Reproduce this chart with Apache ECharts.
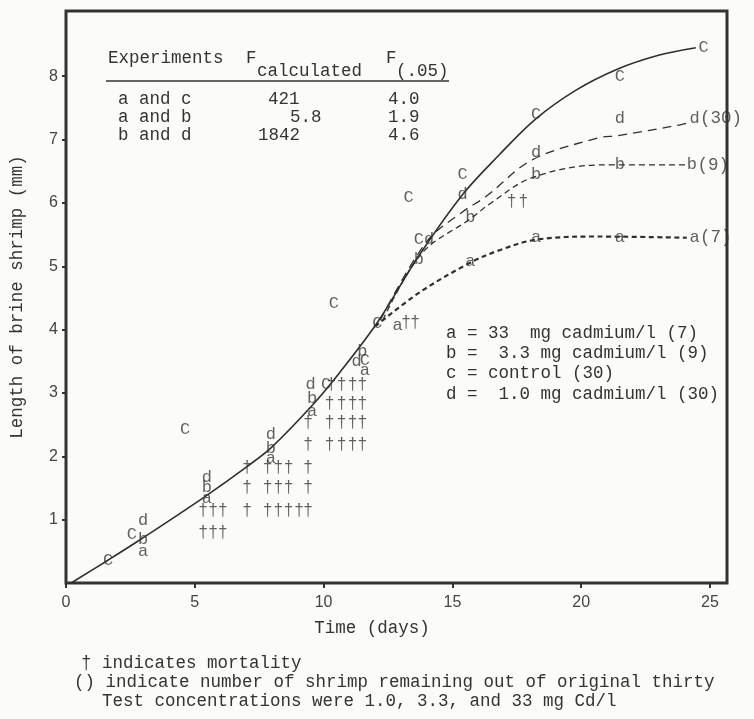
<!DOCTYPE html>
<html><head><meta charset="utf-8">
<script src="https://cdn.jsdelivr.net/npm/echarts@6/dist/echarts.min.js"></script>
<style>html,body{margin:0;padding:0;background:#fbfbf9;} #c{width:754px;height:719px;}</style>
</head><body><div id="c"></div>
<script>
// ---- axis ticks ----
const xTicks = [0, 5, 10, 15, 20, 25];
const yTicks = [1, 2, 3, 4, 5, 6, 7, 8];

// ---- fitted growth curves (days, length mm) ----
const curveCDays = [0.2, 1.63, 2.98, 5.31, 7.0, 8.0, 9.57, 10.62, 12.1, 13.64, 15.39, 16.82, 18.25, 19.8, 21.4, 23.0, 24.45];
const curveCLen  = [0.0, 0.36, 0.71, 1.34, 1.83, 2.15, 2.81, 3.32, 4.12, 5.13, 6.13, 6.76, 7.33, 7.78, 8.11, 8.33, 8.45];
const curveDDays = [12.2, 14.0, 15.4, 16.3, 18.1, 20.7, 21.4, 23.8, 24.3];
const curveDLen  = [4.15, 5.39, 5.86, 6.1, 6.68, 7.03, 7.06, 7.23, 7.28];
const curveBDays = [12.3, 13.8, 15.7, 16.5, 18.1, 20.8, 24.2];
const curveBLen  = [4.15, 5.2, 5.75, 6.0, 6.4, 6.6, 6.6];
const curveADays = [12.0, 13.7, 15.66, 16.8, 18.25, 20.6, 24.1];
const curveALen  = [4.05, 4.58, 5.05, 5.25, 5.42, 5.47, 5.45];

// ---- observed points per treatment ----
const aDays = [2.99, 5.47, 7.95, 9.55, 11.6, 12.87, 15.7, 18.25, 21.5, 24.4];
const aLen  = [0.49, 1.34, 1.97, 2.70, 3.36, 4.07, 5.07, 5.45, 5.45, 5.45];
const bDays = [2.99, 5.47, 7.95, 9.55, 11.5, 13.7, 15.7, 18.25, 21.5, 24.3];
const bLen  = [0.69, 1.50, 2.13, 2.92, 3.65, 5.10, 5.77, 6.45, 6.60, 6.60];
const cDays = [1.63, 2.56, 4.62, 10.1, 10.4, 11.6, 12.09, 13.3, 13.7, 15.4, 18.25, 21.5, 24.75];
const cLen  = [0.36, 0.76, 2.42, 3.13, 4.42, 3.52, 4.10, 6.08, 5.42, 6.45, 7.39, 8.00, 8.45];
const dDays = [2.99, 5.47, 7.95, 9.5, 11.28, 14.1, 15.4, 18.25, 21.5, 24.4];
const dLen  = [0.99, 1.67, 2.35, 3.13, 3.49, 5.42, 6.13, 6.79, 7.34, 7.34];

// ---- mortality marks (†) ----
const mortDays = [5.32, 5.71, 6.09,
  5.32, 5.71, 6.09, 7.03, 7.83, 8.24, 8.64, 9.05, 9.4,
  7.03, 7.83, 8.24, 8.64, 9.4,
  7.03, 7.83, 8.24, 8.64, 9.4,
  9.4, 10.23, 10.7, 11.13, 11.5,
  9.4, 10.23, 10.7, 11.13, 11.5,
  10.23, 10.7, 11.13, 11.5,
  10.3, 10.7, 11.13, 11.5,
  13.2, 13.55,
  17.3, 17.75];
const mortLen = [0.80, 0.80, 0.80,
  1.15, 1.15, 1.15, 1.15, 1.15, 1.15, 1.15, 1.15, 1.15,
  1.50, 1.50, 1.50, 1.50, 1.50,
  1.83, 1.83, 1.83, 1.83, 1.83,
  2.18, 2.18, 2.18, 2.18, 2.18,
  2.53, 2.53, 2.53, 2.53, 2.53,
  2.84, 2.84, 2.84, 2.84,
  3.14, 3.14, 3.14, 3.14,
  4.12, 4.12,
  6.02, 6.02];

// ---- survivors at end ----
const endLetters = ['d', 'b', 'a'];
const endCounts = ['(30)', '(9)', '(7)'];

// ---- text content ----
const xTitle = 'Time (days)';
const yTitle = 'Length of brine shrimp (mm)';
const tableHead = ['Experiments', 'F', 'calculated', 'F', '(.05)'];
const tableExperiments = ['a and c', 'a and b', 'b and d'];
const tableFcalc = ['421', '5.8', '1842'];
const tableF05 = ['4.0', '1.9', '4.6'];
const legendLines = ['a = 33  mg cadmium/l (7)', 'b =  3.3 mg cadmium/l (9)', 'c = control (30)', 'd =  1.0 mg cadmium/l (30)'];
const footnotes = ['† indicates mortality', '() indicate number of shrimp remaining out of original thirty', 'Test concentrations were 1.0, 3.3, and 33 mg Cd/l'];

const MONO = '"Liberation Mono", "DejaVu Sans Mono", monospace';
const FS = 17.5;
const INK = '#333';
const zip = (xs, ys) => xs.map((x, i) => [x, ys[i]]);

function letterSeries(name, xs, ys, letter) {
  return {
    name, type: 'scatter', data: zip(xs, ys), symbol: 'circle', symbolSize: 1,
    itemStyle: {color: 'rgba(0,0,0,0)'}, z: 5, silent: true,
    label: {show: true, position: 'inside', formatter: letter, color: '#3a3a3a',
      fontFamily: MONO, fontSize: 17}
  };
}
function curveSeries(name, xs, ys, width, type) {
  return {
    name, type: 'line', data: zip(xs, ys), smooth: 0.35, showSymbol: false, z: 3, silent: true,
    lineStyle: {color: '#2f2f2f', width, type}
  };
}

const endData = endLetters.map(l => {
  const xs = {a: aDays, b: bDays, d: dDays}[l], ys = {a: aLen, b: bLen, d: dLen}[l];
  return [xs[xs.length - 1], ys[ys.length - 1]];
});

const graphics = [];
function txt(text, x, y, opt) {
  graphics.push({type: 'text', x, y, silent: true,
    style: Object.assign({text, font: FS + 'px ' + MONO, fill: INK, verticalAlign: 'middle', align: 'left'}, opt || {})});
}
txt(tableHead[0], 108, 58);
txt(tableHead[1], 246, 58);
txt(tableHead[2], 257, 71);
txt(tableHead[3], 386, 58);
txt(tableHead[4], 396, 71);
graphics.push({type: 'line', silent: true, shape: {x1: 106, y1: 81, x2: 449, y2: 81}, style: {stroke: '#333', lineWidth: 1.5}});
const tableFcalcX = [268, 290, 258];
tableExperiments.forEach((t, i) => {
  const y = 99 + i * 18;
  txt(t, 118, y);
  txt(tableFcalc[i], tableFcalcX[i], y);
  txt(tableF05[i], 388, y);
});
legendLines.forEach((t, i) => txt(t, 446, 333 + i * 20.3));
txt(xTitle, 372, 628, {align: 'center'});
txt(footnotes[0], 81, 663);
txt(footnotes[1], 74, 682);
txt(footnotes[2], 102, 701);

const chart = echarts.init(document.getElementById('c'), null, {renderer: 'canvas'});
chart.setOption({
  backgroundColor: '#fbfbf9',
  animation: false,
  grid: {left: 66, top: 11, width: 661, height: 572, show: true, borderColor: '#333', borderWidth: 3,
    backgroundColor: 'transparent', containLabel: false, outerBoundsMode: 'none'},
  xAxis: {
    type: 'value', min: 0, max: 25.66, interval: 5,
    axisLine: {show: false},
    axisTick: {show: true, length: 5, customValues: xTicks, lineStyle: {color: '#333', width: 2}},
    axisLabel: {customValues: xTicks, margin: 12, fontFamily: '"Liberation Sans Narrow", "Liberation Sans", sans-serif', fontSize: 16, color: '#444'},
    splitLine: {show: false}
  },
  yAxis: {
    type: 'value', min: 0, max: 9.03, interval: 1,
    name: yTitle, nameLocation: 'middle', nameGap: 40, nameRotate: 90,
    nameTextStyle: {fontFamily: MONO, fontSize: FS, color: INK},
    axisLine: {show: false},
    axisTick: {show: true, length: 4, customValues: yTicks, lineStyle: {color: '#333', width: 2}},
    axisLabel: {customValues: yTicks, margin: 8, fontFamily: '"Liberation Sans Narrow", "Liberation Sans", sans-serif', fontSize: 16, color: '#444'},
    splitLine: {show: false}
  },
  graphic: graphics,
  series: [
    curveSeries('c curve', curveCDays, curveCLen, 1.6, 'solid'),
    curveSeries('d curve', curveDDays, curveDLen, 1.3, [9, 6]),
    curveSeries('b curve', curveBDays, curveBLen, 1.3, [6, 4]),
    curveSeries('a curve', curveADays, curveALen, 2.2, [5, 3.5]),
    letterSeries('a', aDays, aLen, 'a'),
    letterSeries('b', bDays, bLen, 'b'),
    letterSeries('c', cDays, cLen, 'C'),
    letterSeries('d', dDays, dLen, 'd'),
    {
      name: 'mortality', type: 'scatter', data: zip(mortDays, mortLen), symbol: 'circle', symbolSize: 1,
      itemStyle: {color: 'rgba(0,0,0,0)'}, z: 5, silent: true,
      label: {show: true, position: 'inside', formatter: '†', color: '#3a3a3a', fontFamily: MONO, fontSize: 17}
    },
    {
      name: 'survivors', type: 'scatter', data: endData, symbol: 'circle', symbolSize: 1,
      itemStyle: {color: 'rgba(0,0,0,0)'}, z: 5, silent: true,
      label: {show: true, position: 'right', distance: 5, formatter: p => endCounts[p.dataIndex], color: '#333', fontFamily: MONO, fontSize: FS}
    }
  ]
});
</script></body></html>
